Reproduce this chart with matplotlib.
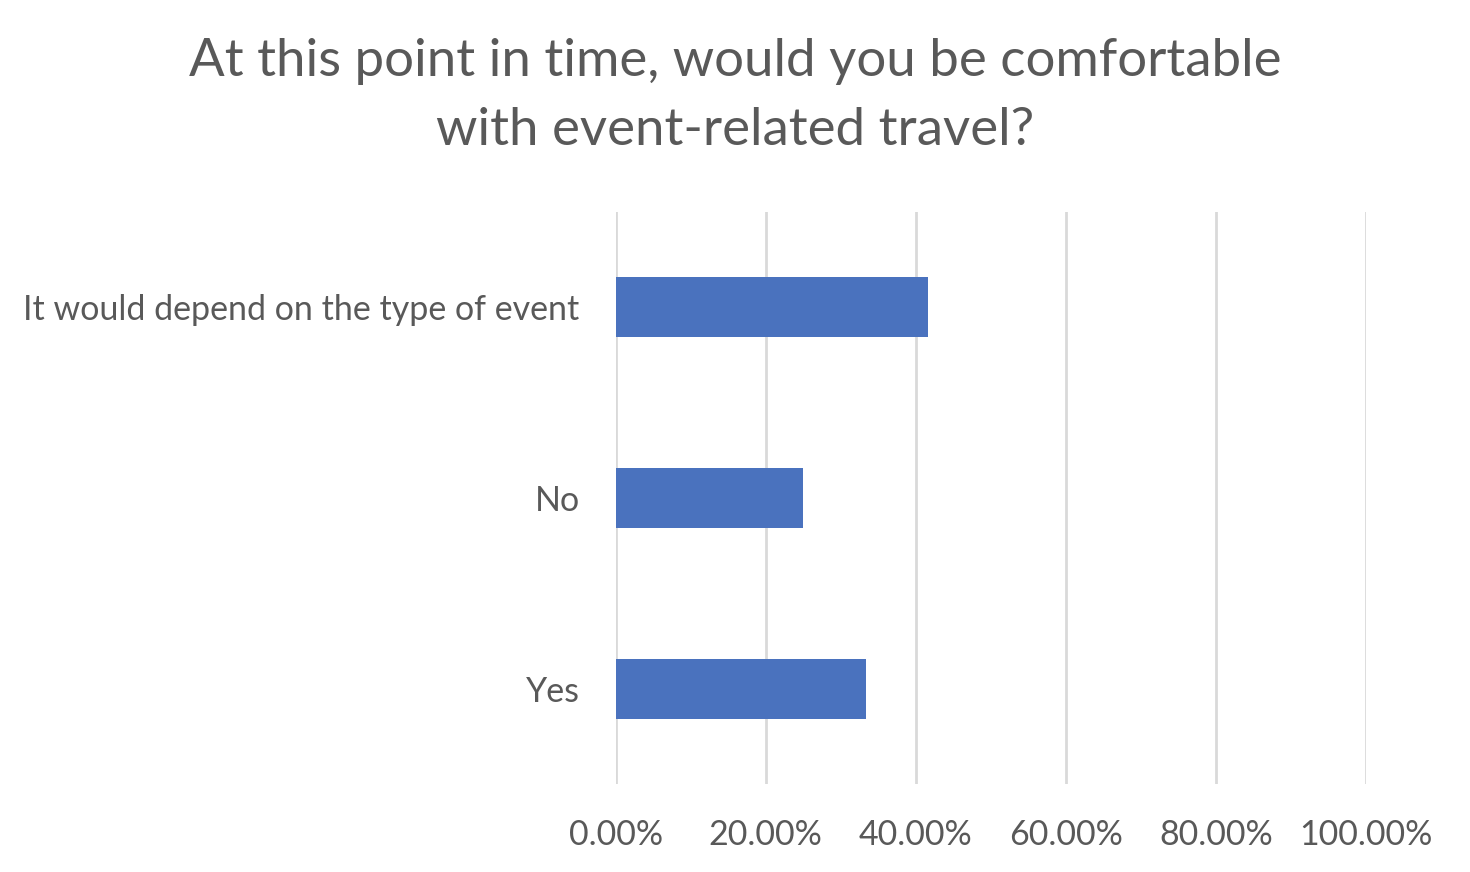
import matplotlib
matplotlib.use("Agg")
import matplotlib.pyplot as plt
from matplotlib.ticker import FuncFormatter, MultipleLocator

# survey answers, bottom to top as drawn
answers = ["Yes", "No", "It would depend on the type of event"]
shares = [33.33, 25.0, 41.67]

title = "At this point in time, would you be comfortable\nwith event-related travel?"

plt.rcParams["font.family"] = ["Lato", "DejaVu Sans"]
text_grey = "#595959"

fig = plt.figure(figsize=(14.7, 8.72), dpi=100)
ax = fig.add_axes([0.4189, 0.1009, 0.5102, 0.6560])

ax.barh(range(len(answers)), shares, height=0.315, color="#4a72be", zorder=3)

ax.set_xlim(0, 100)
ax.set_ylim(-0.5, len(answers) - 0.5)
ax.xaxis.set_major_locator(MultipleLocator(20))
ax.xaxis.set_major_formatter(FuncFormatter(lambda v, p: f"{v:.2f}%"))
ax.set_yticks(range(len(answers)))
ax.set_yticklabels(answers)

ax.grid(axis="x", color="#d9d9d9", linewidth=2, zorder=0)
for s in ax.spines.values():
    s.set_visible(False)
ax.tick_params(axis="x", length=0, pad=25, labelsize=24.5, labelcolor=text_grey)
ax.tick_params(axis="y", length=0, pad=26, labelsize=24.5, labelcolor=text_grey)

fig.text(0.5, 0.890, title, ha="center", va="center", fontsize=38,
         color=text_grey, linespacing=1.59)

fig.savefig("out.png", dpi=100, facecolor="white")
